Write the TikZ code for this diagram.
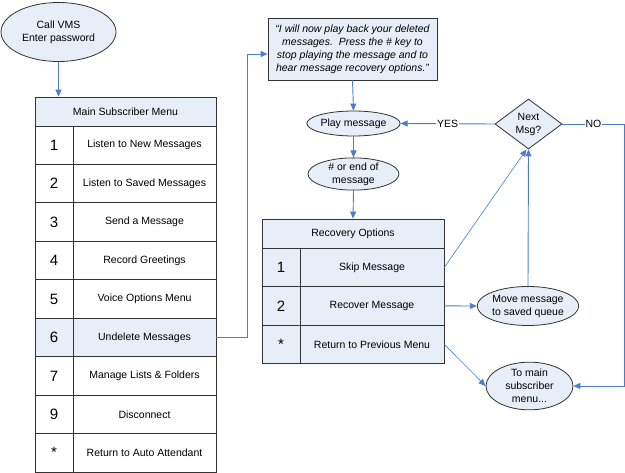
\documentclass[tikz,border=0pt]{standalone}
\usepackage{fontspec}
\setmainfont{Liberation Sans}
\usepackage{tikz}
\usetikzlibrary{shapes.geometric,arrows.meta}
\definecolor{vmsfill}{RGB}{232,238,247}
\definecolor{vmsline}{RGB}{74,126,199}
\definecolor{vmsedge}{RGB}{51,51,51}

\begin{document}
\begin{tikzpicture}[x=1pt,y=-1pt]
	\tikzset{every node/.style={font=\fontsize{10.5}{13}\selectfont,text=black}}
	\tikzset{cell/.style={draw=vmsedge,line width=0.8pt,inner sep=0pt,align=center}}
	\tikzset{numcell/.style={cell,minimum width=38pt,font=\fontsize{15}{17}\selectfont}}
	\tikzset{ell/.style={ellipse,draw=vmsedge,fill=vmsfill,line width=0.8pt,inner sep=0pt,align=center}}
	\tikzset{conn/.style={draw=vmsline,line width=0.9pt,-{Triangle[length=7pt,width=6pt]}}}
	\tikzset{lbl/.style={fill=white,inner sep=1pt}}
	\useasboundingbox (0,0) rectangle (625,473);
	% start
	\node[ell,minimum width=115pt,minimum height=59pt] (call) at (58.5,32) {Call VMS\\Enter password};
	% main subscriber menu
	\node[cell,fill=vmsfill,minimum width=181pt,minimum height=29pt] (mhead) at (125.5,111.5) {Main Subscriber Menu};
	\foreach \k/\txt/\col [count=\i] in {1/Listen to New Messages/white,2/Listen to Saved Messages/white,3/Send a Message/white,4/Record Greetings/white,5/Voice Options Menu/white,6/Undelete Messages/vmsfill,7/Manage Lists \& Folders/white,9/Disconnect/white,*/Return to Auto Attendant/white}
	{
		\node[numcell,minimum height=38.44pt,fill=\col] (mn\i) at (54,{126+38.44*\i-19.22}) {\k};
		\node[cell,minimum width=143pt,minimum height=38.44pt,fill=\col] (mt\i) at (144.5,{126+38.44*\i-19.22}) {\txt};
	}
	% playback
	\node[cell,fill=vmsfill,minimum width=169pt,minimum height=62pt,font=\fontsize{10.5}{13}\selectfont\itshape] (quote) at (352.5,49) {“I will now play back your deleted\\messages.\ \ Press the \# key to\\stop playing the message and to\\hear message recovery options.”};
	\node[ell,minimum width=91pt,minimum height=25pt] (play) at (353.5,123.5) {Play message};
	\node[ell,minimum width=91pt,minimum height=32pt] (hash) at (353.5,174) {\# or end of\\message};
	\node[diamond,draw=vmsedge,fill=vmsfill,line width=0.8pt,inner sep=0pt,aspect=1.34,minimum width=67pt,minimum height=50pt,align=center] (next) at (528.5,124) {Next\\Msg?};
	% recovery options
	\node[cell,fill=vmsfill,minimum width=182pt,minimum height=29pt] (rhead) at (353,233.5) {Recovery Options};
	\foreach \k/\txt [count=\i] in {1/Skip Message,2/Recover Message,*/Return to Previous Menu}
	{
		\node[numcell,minimum height=38.6pt,fill=vmsfill] (rn\i) at (281,{248+38.6*\i-19.3}) {\k};
		\node[cell,minimum width=144pt,minimum height=38.6pt,fill=vmsfill] (rt\i) at (372,{248+38.6*\i-19.3}) {\txt};
	}
	\node[ell,minimum width=96pt,minimum height=39pt] (saved) at (528,306) {Move message\\to saved queue};
	\node[ell,minimum width=87pt,minimum height=46pt] (back) at (529.5,386) {To main\\subscriber\\menu...};
	\coordinate (rim) at (624.5,0);
	% connectors
	\draw[conn] (call.south) -- (call.south |- mhead.north);
	\draw[conn] (mt6.east) -- ++(31,0) |- ([yshift=-5pt]quote.west);
	\draw[conn] (quote.south) -- (play.north);
	\draw[conn] (play.south) -- (hash.north);
	\draw[conn] (hash.south) -- (rhead.north);
	\draw[conn] (next.west) -- node[lbl]{YES} (play.east);
	\draw[conn] (next.east) -- node[lbl]{NO} (next.east -| rim) |- (back.east);
	\draw[conn,line width=0.6pt] (rt1.east) -- ([xshift=-2pt]next.south);
	\draw[conn] (saved.north) -- (next.south);
	\draw[conn] (rt2.east) -- (saved.west);
	\draw[conn,line width=0.6pt] (rt3.east) -- (back.west);
\end{tikzpicture}
\end{document}
